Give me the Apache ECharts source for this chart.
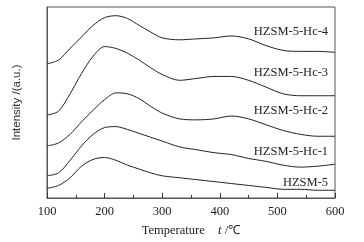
<!DOCTYPE html>
<html>
<head>
<meta charset="utf-8">
<script src="https://cdn.jsdelivr.net/npm/echarts@6/dist/echarts.min.js"></script>
<style>
html, body { margin: 0; padding: 0; background: #fff; }
#chart { width: 364px; height: 242px; }
</style>
</head>
<body>
<div id="chart"></div>
<script>
// temperature points (°C) shared by every curve
const temps = [100, 120, 140, 160, 180, 200, 220, 240, 260, 280, 300, 330, 360, 390, 420, 450, 480, 510, 540, 570, 600];

// stacked, offset intensity traces (arbitrary units)
const hzsm5 = [10, 13, 21, 33, 40, 42, 39, 34, 30, 26, 23, 21, 19, 17, 15, 13, 11, 9, 9, 8, 8];
const hc1 = [23, 26, 39, 54, 66, 73, 74, 71, 67, 63, 59, 53, 50, 47, 45, 41, 38, 34, 32, 33, 35];
const hc2 = [54, 57, 66, 79, 91, 102, 109, 108, 103, 95, 88, 82, 81, 82, 85, 82, 76, 70, 66, 64, 64];
const hc3 = [86, 90, 108, 129, 147, 157, 155, 150, 143, 135, 128, 122, 124, 126, 126, 122, 115, 108, 106, 106, 106];
const hc4 = [139, 143, 155, 167, 179, 187, 189, 186, 179, 172, 166, 164, 165, 166, 168, 165, 158, 153, 152, 152, 151];

const names = ['HZSM-5', 'HZSM-5-Hc-1', 'HZSM-5-Hc-2', 'HZSM-5-Hc-3', 'HZSM-5-Hc-4'];
const curves = [hzsm5, hc1, hc2, hc3, hc4];
// where each name sits (temperature of right edge, intensity)
const labelX = 588;
const labelY = [16, 48, 90, 130, 172];

const serif = "'Liberation Serif', 'Times New Roman', serif";

let myChart = echarts.init(document.getElementById('chart'));

let series = curves.map((vals, i) => ({
    name: names[i],
    type: 'line',
    data: temps.map((t, j) => [t, vals[j]]),
    smooth: 0.3,
    symbol: 'none',
    lineStyle: { color: '#222', width: 1 },
    markPoint: {
        symbol: 'circle',
        symbolSize: 0,
        data: [{ coord: [labelX, labelY[i]] }],
        label: {
            show: true,
            position: 'left',
            distance: 0,
            formatter: names[i],
            color: '#222',
            fontFamily: serif,
            fontSize: 12.5
        }
    }
}));

let option = {
    animation: false,
    backgroundColor: '#fff',
    grid: {
        left: 47, right: 29, top: 7, bottom: 37,
        show: true,
        borderColor: '#555',
        borderWidth: 1
    },
    xAxis: {
        type: 'value',
        min: 100,
        max: 600,
        interval: 100,
        name: '{a|Temperature}    {b|t} {a|/℃}',
        nameLocation: 'middle',
        nameGap: 26,
        nameTextStyle: {
            rich: {
                a: { fontFamily: serif, fontSize: 12.5, color: '#222' },
                b: { fontFamily: serif, fontSize: 12.5, fontStyle: 'italic', color: '#222' }
            }
        },
        axisLine: { lineStyle: { color: '#555' } },
        axisTick: { inside: true, length: 5, lineStyle: { color: '#333' } },
        minorTick: { show: true, splitNumber: 2, length: 3, lineStyle: { color: '#333' } },
        axisLabel: { color: '#222', fontFamily: serif, fontSize: 12.5, margin: 7 },
        splitLine: { show: false }
    },
    yAxis: {
        type: 'value',
        min: 0,
        max: 198,
        name: 'Intensity /(a.u.)',
        nameLocation: 'middle',
        nameGap: 24,
        nameTextStyle: { fontFamily: "'Liberation Sans', Arial, sans-serif", fontSize: 11.5, color: '#333' },
        axisLine: { show: true, lineStyle: { color: '#555' } },
        axisTick: { show: false },
        axisLabel: { show: false },
        splitLine: { show: false }
    },
    series: series
};

myChart.setOption(option);
</script>
</body>
</html>
